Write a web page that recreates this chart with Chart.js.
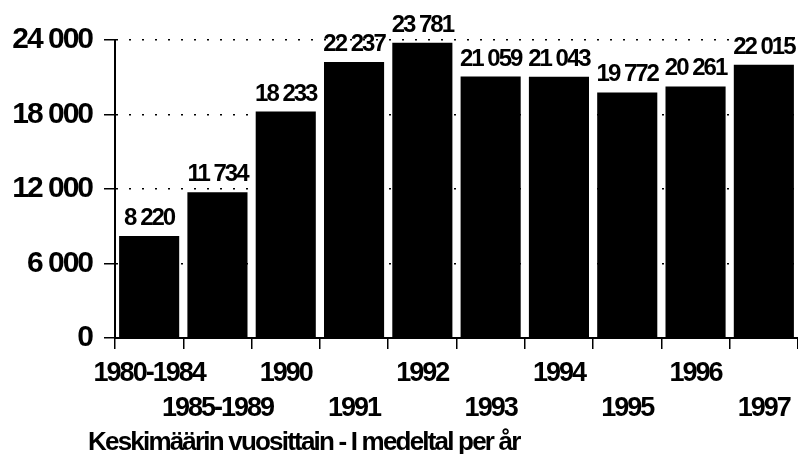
<!DOCTYPE html>
<html>
<head>
<meta charset="utf-8">
<script src="https://cdn.jsdelivr.net/npm/chart.js@4"></script>
<style>
  html, body { margin: 0; padding: 0; background: #fff; }
  #wrap { position: relative; width: 798px; height: 454px; overflow: hidden; }
  #caption {
    position: absolute; left: 88px; top: 426px;
    font: bold 26px 'Liberation Sans', Arial, sans-serif;
    letter-spacing: -1.8px;
    color: #000; white-space: nowrap; line-height: 30px;
  }
</style>
</head>
<body>
<div id="wrap">
  <canvas id="chart" width="798" height="454"></canvas>
  <div id="caption">Keskimäärin vuosittain - I medeltal per år</div>
</div>
<script>
// --- Data ---
const categories = ['1980-1984', '1985-1989', '1990', '1991', '1992', '1993', '1994', '1995', '1996', '1997'];
const values = [8220, 11734, 18233, 22237, 23781, 21059, 21043, 19772, 20261, 22015];
const yTicks = [0, 6000, 12000, 18000, 24000];

const FONT = "'Liberation Sans', Arial, sans-serif";

// Thousands with a space: 22237 -> "22 237"
function fmt(v) {
  return String(v).replace(/\B(?=(\d{3})+(?!\d))/g, ' ');
}

// Tighter letters, the original type is a narrow grotesque
const narrowText = {
  id: 'narrowText',
  beforeInit(chart) { chart.ctx.letterSpacing = '-2px'; },
  beforeUpdate(chart) { chart.ctx.letterSpacing = '-2px'; },
  beforeDraw(chart) { chart.ctx.letterSpacing = '-2px'; }
};

// Draw the value above each bar
const valueLabels = {
  id: 'valueLabels',
  afterDatasetsDraw(chart) {
    const ctx = chart.ctx;
    const meta = chart.getDatasetMeta(0);
    ctx.save();
    ctx.font = 'bold 24px ' + FONT;
    ctx.fillStyle = '#000';
    ctx.textAlign = 'center';
    ctx.textBaseline = 'alphabetic';
    meta.data.forEach(function (bar, i) {
      ctx.fillText(fmt(values[i]), bar.x, bar.y - 11);
    });
    ctx.restore();
  }
};

const ctx = document.getElementById('chart').getContext('2d');
const chart = new Chart(ctx, {
  type: 'bar',
  data: {
    labels: categories,
    datasets: [{
      data: values,
      backgroundColor: '#000',
      borderWidth: 0,
      barPercentage: 0.88,
      categoryPercentage: 1.0
    }]
  },
  options: {
    responsive: false,
    animation: false,
    layout: { padding: { top: 40, left: 0, right: 0, bottom: 36 } },
    plugins: { legend: { display: false }, tooltip: { enabled: false } },
    scales: {
      x: {
        ticks: {
          autoSkip: false,
          maxRotation: 0,
          color: '#000',
          padding: 7,
          font: { family: FONT, size: 27, weight: 'bold', lineHeight: 1.3 },
          callback: function (val, i) {
            return i % 2 === 0 ? [categories[i], ''] : ['', categories[i]];
          }
        },
        grid: { drawOnChartArea: false, color: '#000', lineWidth: 1.5, tickLength: 11 },
        border: { display: true, color: '#000', width: 2, dash: [] },
        afterFit: function (s) { s.height = 80; }
      },
      y: {
        min: 0,
        max: 24000,
        afterBuildTicks: function (s) { s.ticks = yTicks.map(v => ({ value: v })); },
        ticks: {
          color: '#000',
          padding: 12,
          font: { family: FONT, size: 30, weight: 'bold' },
          callback: function (v) { return fmt(v); }
        },
        grid: {
          color: '#000', lineWidth: 1.5, tickLength: 11,
          tickBorderDash: [], tickWidth: 1.5
        },
        border: { display: true, color: '#000', width: 2, dash: [2, 11] },
        afterFit: function (s) { s.width = 115; }
      }
    }
  },
  plugins: [narrowText, valueLabels]
});
</script>
</body>
</html>
